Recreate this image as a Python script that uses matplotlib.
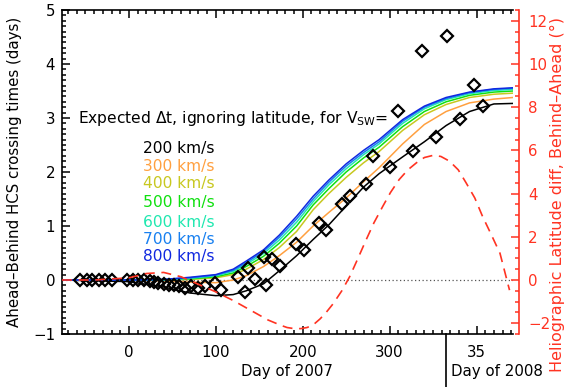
import numpy as np
import matplotlib
matplotlib.use('Agg')
import matplotlib.pyplot as plt
from matplotlib.ticker import MultipleLocator, FixedLocator, FixedFormatter
import matplotlib.transforms as mtrans

# observed Ahead-Behind HCS crossing time differences (days)
obs_day = [-56, -48, -42, -34, -27, -20, -2, 5, 11, 17, 24, 29, 34, 40, 46, 52, 58, 65,
           72, 80, 88, 98.6, 106, 125.5, 134, 137, 144.6, 156, 158, 165, 173.4, 192.6,
           202, 218.7, 227, 245.5, 254.8, 273, 281, 300, 310, 327, 337.6, 353.7, 366,
           380.5, 396.7, 407]
obs_dt = [0, 0, 0, 0, 0, 0, 0, 0, 0, 0, -0.02, -0.03, -0.05, -0.07, -0.09, -0.1, -0.12, -0.14,
          -0.12, -0.15, -0.12, -0.05, -0.19, 0.05, -0.22, 0.22, 0.02, 0.42, -0.09, 0.39, 0.26, 0.66,
          0.55, 1.05, 0.93, 1.41, 1.55, 1.77, 2.29, 2.09, 3.13, 2.38, 4.25, 2.64, 4.51,
          2.98, 3.62, 3.23]

# expected dt curves for each solar wind speed
curve_day = [-77, 0, 40, 70, 100, 120, 135, 155, 173, 193, 212, 230, 250, 270, 288, 315, 340, 365, 392, 420, 442]
dt_200 = [0, -0.03, -0.13, -0.24, -0.29, -0.27, -0.2, -0.07, 0.17, 0.45, 0.75, 1.02, 1.37, 1.72, 1.97, 2.28, 2.56, 2.86, 3.12, 3.26, 3.27]
dt_300 = [0, 0, -0.02, -0.04, -0.05, 0.0, 0.08, 0.25, 0.45, 0.7, 1.0, 1.25, 1.52, 1.82, 2.08, 2.52, 2.88, 3.12, 3.28, 3.35, 3.38]
dt_400 = [0, 0, 0, 0.01, 0.04, 0.1, 0.2, 0.38, 0.6, 0.9, 1.3, 1.6, 1.9, 2.17, 2.38, 2.77, 3.06, 3.25, 3.38, 3.44, 3.46]
dt_500 = [0, 0, 0, 0.02, 0.06, 0.13, 0.25, 0.44, 0.68, 1.0, 1.39, 1.69, 2.0, 2.26, 2.46, 2.84, 3.12, 3.3, 3.42, 3.48, 3.5]
dt_600 = [0, 0, 0, 0.03, 0.08, 0.16, 0.29, 0.49, 0.74, 1.07, 1.45, 1.76, 2.06, 2.32, 2.52, 2.9, 3.17, 3.34, 3.45, 3.51, 3.53]
dt_700 = [0, 0, 0.01, 0.04, 0.09, 0.18, 0.32, 0.53, 0.79, 1.13, 1.5, 1.81, 2.11, 2.36, 2.56, 2.94, 3.2, 3.36, 3.47, 3.53, 3.55]
dt_800 = [0, 0, 0.01, 0.05, 0.1, 0.2, 0.35, 0.56, 0.83, 1.18, 1.55, 1.85, 2.15, 2.4, 2.6, 2.97, 3.22, 3.38, 3.48, 3.54, 3.56]
speeds = ['200 km/s', '300 km/s', '400 km/s', '500 km/s', '600 km/s', '700 km/s', '800 km/s']
speed_colors = ['black', '#ffa040', '#c8c820', '#10e010', '#20e8b0', '#1880f0', '#1028e0']

# heliographic latitude difference Behind-Ahead (deg)
lat_day = [-77, -40, 0, 20, 40, 60, 80, 100, 120, 140, 160, 175, 182, 190, 198, 205, 212, 220,
           227, 235, 245, 254, 263, 273, 282, 292, 301, 311, 321, 331, 340, 350, 359, 369,
           379, 388, 398, 407, 417, 427, 438]
lat_diff = [0, 0, 0.1, 0.3, 0.35, 0.15, -0.2, -0.55, -0.95, -1.4, -1.85, -2.1, -2.2, -2.25, -2.25,
            -2.2, -2.08, -1.8, -1.5, -1.1, -0.5, 0.15, 0.95, 1.86, 2.65, 3.4, 4.05, 4.65, 5.1,
            5.43, 5.67, 5.77, 5.72, 5.5, 5.1, 4.5, 3.8, 2.94, 2.1, 1.24, -0.47]

xtick_pos = [0, 100, 200, 300, 400]
xtick_lab = ['0', '100', '200', '300', '35']

red = '#ff3322'
plt.rcParams['font.family'] = 'DejaVu Sans'
plt.rcParams['font.size'] = 10.8

fig = plt.figure(figsize=(5.66, 3.87), dpi=100)
ax = fig.add_axes([62/566, 1-334/387, 451/566, 324/387])

ax.axhline(0, color='#555555', lw=0.9, ls=(0, (1, 2)))
all_dt = [dt_200, dt_300, dt_400, dt_500, dt_600, dt_700, dt_800]
for dt, c in zip(all_dt, speed_colors):
    ax.plot(curve_day, dt, color=c, lw=1.1)
ax.plot(obs_day, obs_dt, ls='none', marker='D', ms=5.8, mfc='none', mec='black', mew=1.6)

ax.set_xlim(-77, 442)
ax.set_ylim(-1, 5)
ax.xaxis.set_major_locator(FixedLocator(xtick_pos))
ax.xaxis.set_major_formatter(FixedFormatter(xtick_lab))
ax.xaxis.set_minor_locator(MultipleLocator(10))
ax.yaxis.set_major_locator(MultipleLocator(1))
ax.yaxis.set_minor_locator(MultipleLocator(0.1))
ax.tick_params(which='both', direction='in', top=True, right=False, width=1.1, color='black')
ax.tick_params(which='major', length=6)
ax.tick_params(which='minor', length=3)
ax.tick_params(axis='x', pad=8)
ax.tick_params(axis='y', pad=5)
for s in ['left', 'top', 'bottom']:
    ax.spines[s].set_linewidth(1.2)
ax.spines['right'].set_visible(False)
ax.set_ylabel('Ahead\u2013Behind HCS crossing times (days)')
ax.yaxis.set_label_coords(-0.088, 0.5)

ax.text(-59, 3.0, 'Expected \u0394t, ignoring latitude, for V$_{\\mathrm{SW}}$=',
        va='center', ha='left', fontsize=11.2)
label_y = [2.444, 2.093, 1.778, 1.426, 1.074, 0.759, 0.426]
for lab, c, yy in zip(speeds, speed_colors, label_y):
    ax.text(16, yy, lab, color=c, va='center', ha='left', fontsize=11.2)

trans = mtrans.blended_transform_factory(ax.transData, ax.transAxes)
ax.text(182, -0.117, 'Day of 2007', transform=trans, ha='center', va='center')
ax.text(371, -0.117, 'Day of 2008', transform=trans, ha='left', va='center')
ax.plot([365, 365], [0, -0.17], color='black', lw=1.2, transform=trans, clip_on=False)

ax2 = ax.twinx()
ax2.plot(lat_day, lat_diff, color=red, lw=1.2, dashes=(6, 4))
ax2.set_ylim(-2.5, 12.5)
ax2.yaxis.set_major_locator(MultipleLocator(2))
ax2.yaxis.set_minor_locator(MultipleLocator(0.5))
for s in ['left', 'top', 'bottom']:
    ax2.spines[s].set_visible(False)
ax2.spines['right'].set_color(red)
ax2.spines['right'].set_linewidth(1.2)
ax2.spines['right'].set_position(('outward', 4))
ax2.tick_params(which='both', direction='in', colors=red, width=1.1, pad=7)
ax2.tick_params(which='major', length=6)
ax2.tick_params(which='minor', length=3)
ax2.set_ylabel('Heliographic Latitude diff, Behind\u2013Ahead (\u00b0)', color=red, fontsize=11.5)
ax2.yaxis.set_label_coords(1.083, 0.43)

fig.savefig('out.png', dpi=100)
